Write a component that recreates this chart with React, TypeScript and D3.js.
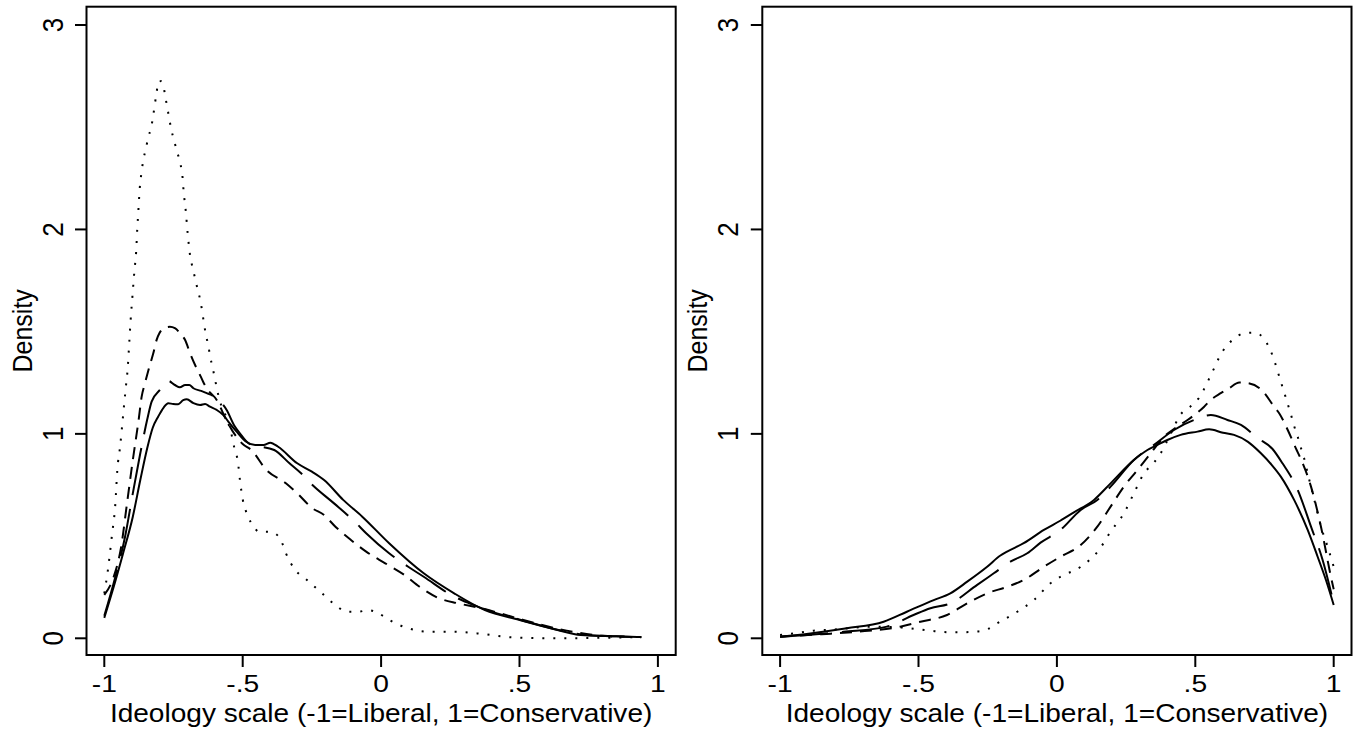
import React from "react";
import * as d3 from "d3";

// ---------- data ----------
const xTickValues = [-1, -0.5, 0, 0.5, 1];
const xTickLabels = ["-1", "-.5", "0", ".5", "1"];
const yTickValues = [0, 1, 2, 3];
const yTickLabels = ["0", "1", "2", "3"];
const xTitle = "Ideology scale (-1=Liberal, 1=Conservative)";
const yTitle = "Density";

// Left panel
const leftSolid: [number, number][] = [
  [-1.0, 0.1], [-0.966, 0.252], [-0.932, 0.416], [-0.897, 0.595], [-0.87, 0.774], [-0.845, 0.93],
  [-0.825, 1.03], [-0.805, 1.085], [-0.785, 1.13], [-0.769, 1.15], [-0.751, 1.146], [-0.733, 1.145],
  [-0.715, 1.165], [-0.702, 1.169], [-0.678, 1.15], [-0.654, 1.141], [-0.636, 1.146], [-0.618, 1.133],
  [-0.594, 1.117], [-0.57, 1.092], [-0.552, 1.06], [-0.522, 1.011], [-0.486, 0.96], [-0.455, 0.945],
  [-0.425, 0.945], [-0.4, 0.957], [-0.372, 0.937], [-0.303, 0.856], [-0.25, 0.815], [-0.206, 0.774],
  [-0.137, 0.677], [-0.068, 0.595], [0.029, 0.465], [0.154, 0.318], [0.264, 0.22], [0.375, 0.138],
  [0.499, 0.09], [0.637, 0.041], [0.721, 0.016], [0.85, 0.01], [0.94, 0.006],
];
const leftLongDash: [number, number][] = [
  [-1.0, 0.11], [-0.96, 0.301], [-0.925, 0.497], [-0.897, 0.709], [-0.87, 0.905], [-0.845, 1.07],
  [-0.829, 1.158], [-0.799, 1.215], [-0.769, 1.259], [-0.745, 1.239], [-0.727, 1.228], [-0.708, 1.239],
  [-0.693, 1.239], [-0.678, 1.223], [-0.65, 1.21], [-0.63, 1.199], [-0.594, 1.174], [-0.558, 1.117],
  [-0.53, 1.04], [-0.51, 1.003], [-0.48, 0.955], [-0.455, 0.94], [-0.434, 0.937], [-0.386, 0.921],
  [-0.331, 0.856], [-0.289, 0.807], [-0.248, 0.75], [-0.17, 0.66], [-0.095, 0.57], [-0.054, 0.514],
  [0.029, 0.416], [0.098, 0.35], [0.154, 0.301], [0.264, 0.204], [0.319, 0.171], [0.4, 0.13],
  [0.499, 0.092], [0.637, 0.042], [0.75, 0.015], [0.85, 0.01], [0.94, 0.006],
];
const leftDash: [number, number][] = [
  [-1.0, 0.212], [-0.966, 0.301], [-0.939, 0.448], [-0.918, 0.66], [-0.897, 0.872], [-0.876, 1.068],
  [-0.865, 1.182], [-0.853, 1.248], [-0.837, 1.329], [-0.823, 1.394], [-0.811, 1.46], [-0.801, 1.492],
  [-0.78, 1.52], [-0.763, 1.524], [-0.745, 1.517], [-0.725, 1.49], [-0.708, 1.459], [-0.69, 1.394],
  [-0.672, 1.337], [-0.657, 1.296], [-0.643, 1.255], [-0.63, 1.223], [-0.594, 1.166], [-0.56, 1.07],
  [-0.53, 1.0], [-0.5, 0.95], [-0.469, 0.921], [-0.414, 0.823], [-0.344, 0.758], [-0.303, 0.709],
  [-0.248, 0.636], [-0.206, 0.603], [-0.165, 0.546], [-0.109, 0.481], [-0.054, 0.424], [0.015, 0.367],
  [0.084, 0.31], [0.139, 0.252], [0.209, 0.196], [0.278, 0.171], [0.361, 0.147], [0.43, 0.122],
  [0.5, 0.095], [0.582, 0.065], [0.7, 0.03], [0.8, 0.012], [0.94, 0.005],
];
const leftDot: [number, number][] = [
  [-1.0, 0.22], [-0.987, 0.334], [-0.973, 0.497], [-0.96, 0.66], [-0.953, 0.823], [-0.943, 0.937],
  [-0.931, 1.106], [-0.923, 1.218], [-0.915, 1.329], [-0.91, 1.443], [-0.905, 1.554], [-0.898, 1.68],
  [-0.891, 1.8], [-0.885, 1.89], [-0.881, 2.0], [-0.877, 2.09], [-0.872, 2.2], [-0.865, 2.285],
  [-0.859, 2.34], [-0.85, 2.394], [-0.841, 2.451], [-0.83, 2.503], [-0.823, 2.56], [-0.817, 2.616],
  [-0.811, 2.671], [-0.803, 2.727], [-0.795, 2.725], [-0.787, 2.707], [-0.78, 2.652], [-0.772, 2.594],
  [-0.765, 2.539], [-0.757, 2.483], [-0.747, 2.43], [-0.736, 2.376], [-0.725, 2.32], [-0.718, 2.265],
  [-0.713, 2.18], [-0.706, 2.095], [-0.699, 1.984], [-0.69, 1.872], [-0.682, 1.818], [-0.672, 1.761],
  [-0.663, 1.707], [-0.653, 1.652], [-0.646, 1.596], [-0.64, 1.541], [-0.633, 1.485], [-0.624, 1.43],
  [-0.617, 1.375], [-0.608, 1.32], [-0.6, 1.267], [-0.592, 1.213], [-0.582, 1.158], [-0.566, 1.106],
  [-0.552, 1.052], [-0.54, 0.995], [-0.53, 0.93], [-0.517, 0.86], [-0.51, 0.774], [-0.5, 0.68],
  [-0.483, 0.603], [-0.462, 0.55], [-0.441, 0.521], [-0.4, 0.521], [-0.365, 0.489], [-0.344, 0.416],
  [-0.31, 0.334], [-0.275, 0.294], [-0.22, 0.228], [-0.165, 0.163], [-0.123, 0.13], [-0.082, 0.13],
  [-0.047, 0.138], [-0.013, 0.125], [0.029, 0.09], [0.098, 0.049], [0.181, 0.032], [0.264, 0.032],
  [0.347, 0.024], [0.471, 0.005], [0.637, 0.0], [0.86, 0.004], [0.94, 0.006],
];

// Right panel
const rightSolid: [number, number][] = [
  [-1.0, 0.008], [-0.891, 0.024], [-0.759, 0.049], [-0.626, 0.081], [-0.542, 0.13], [-0.445, 0.187],
  [-0.385, 0.22], [-0.324, 0.277], [-0.252, 0.35], [-0.204, 0.405], [-0.18, 0.424], [-0.12, 0.465],
  [-0.047, 0.53], [0.012, 0.575], [0.06, 0.615], [0.134, 0.677], [0.194, 0.758], [0.278, 0.872],
  [0.327, 0.921], [0.363, 0.946], [0.399, 0.97], [0.447, 0.995], [0.508, 1.011], [0.55, 1.022],
  [0.6, 1.005], [0.64, 0.995], [0.689, 0.962], [0.737, 0.905], [0.775, 0.85], [0.809, 0.791],
  [0.857, 0.677], [0.906, 0.53], [0.942, 0.399], [0.972, 0.285], [1.0, 0.163],
];
const rightLongDash: [number, number][] = [
  [-1.0, 0.008], [-0.88, 0.018], [-0.771, 0.032], [-0.614, 0.057], [-0.518, 0.114], [-0.457, 0.147],
  [-0.385, 0.171], [-0.288, 0.261], [-0.228, 0.318], [-0.168, 0.375], [-0.107, 0.416], [-0.059, 0.468],
  [0.013, 0.53], [0.086, 0.628], [0.146, 0.677], [0.194, 0.742], [0.278, 0.872], [0.351, 0.946],
  [0.423, 1.019], [0.496, 1.068], [0.556, 1.092], [0.616, 1.068], [0.665, 1.044], [0.725, 0.98],
  [0.779, 0.926], [0.815, 0.856], [0.87, 0.726], [0.918, 0.546], [0.96, 0.383], [1.0, 0.17],
];
const rightDash: [number, number][] = [
  [-1.0, 0.008], [-0.85, 0.02], [-0.722, 0.032], [-0.566, 0.057], [-0.493, 0.081], [-0.397, 0.114],
  [-0.324, 0.171], [-0.252, 0.22], [-0.18, 0.252], [-0.12, 0.285], [-0.047, 0.35], [0.013, 0.399],
  [0.086, 0.456], [0.146, 0.546], [0.194, 0.644], [0.242, 0.742], [0.291, 0.823], [0.339, 0.905],
  [0.387, 0.986], [0.43, 1.03], [0.472, 1.068], [0.532, 1.133], [0.556, 1.166], [0.592, 1.199],
  [0.622, 1.223], [0.659, 1.251], [0.689, 1.248], [0.737, 1.218], [0.785, 1.133], [0.803, 1.101],
  [0.834, 1.019], [0.863, 0.93], [0.882, 0.875], [0.918, 0.742], [0.954, 0.546], [0.99, 0.301],
  [1.0, 0.24],
];
const rightDot: [number, number][] = [
  [-1.0, 0.016], [-0.952, 0.024], [-0.879, 0.037], [-0.795, 0.044], [-0.674, 0.057], [-0.554, 0.052],
  [-0.457, 0.037], [-0.373, 0.029], [-0.3, 0.032], [-0.252, 0.044], [-0.216, 0.073], [-0.143, 0.13],
  [-0.083, 0.187], [-0.023, 0.269], [0.013, 0.301], [0.086, 0.35], [0.152, 0.432], [0.194, 0.522],
  [0.242, 0.611], [0.278, 0.709], [0.315, 0.807], [0.351, 0.86], [0.375, 0.905], [0.411, 1.0],
  [0.447, 1.095], [0.481, 1.132], [0.511, 1.172], [0.532, 1.22], [0.55, 1.27], [0.568, 1.321],
  [0.586, 1.373], [0.608, 1.422], [0.638, 1.463], [0.677, 1.492], [0.715, 1.495], [0.749, 1.463],
  [0.771, 1.41], [0.785, 1.36], [0.797, 1.308], [0.809, 1.255], [0.822, 1.199], [0.834, 1.146],
  [0.846, 1.092], [0.857, 1.039], [0.87, 0.986], [0.882, 0.93], [0.894, 0.876], [0.906, 0.807],
  [0.93, 0.677], [0.954, 0.546], [0.978, 0.448], [1.0, 0.35],
];

const leftSeries = [leftSolid, leftLongDash, leftDash, leftDot];
const rightSeries = [rightSolid, rightLongDash, rightDash, rightDot];

// ---------- styles ----------
const lineStyles = [
  { dash: "none", width: 2 },
  { dash: "48,14", width: 2 },
  { dash: "12,8", width: 2 },
  { dash: "2,9", width: 2 },
];

const W = 1362;
const H = 732;
const FONT = "'Liberation Sans', Arial, Helvetica, sans-serif";

const xTickFont = { size: 23.5, sx: 1.2 };
const yTickFont = { size: 26, sx: 1.12 };
const titleFont = { size: 25.5, sx: 1.1 };
const yTitleFont = { size: 25, sx: 1.1 };

const frame = { x1: 86.5, x2: 675.7, y1: 6.7, y2: 655 };
const panelOffset = 675.8;

const xScale = d3.scaleLinear().domain([-1, 1]).range([104.3, 657.9]);
const yScale = d3.scaleLinear().domain([0, 3]).range([638.3, 25]);

const lineGen = d3
  .line<[number, number]>()
  .x((d) => xScale(d[0]))
  .y((d) => yScale(d[1]))
  .curve(d3.curveMonotoneX);

function Panel({ series, dx }: { series: [number, number][][]; dx: number }) {
  const fcx = (frame.x1 + frame.x2) / 2;
  const fcy = (frame.y1 + frame.y2) / 2;
  return (
    <g transform={`translate(${dx},0)`}>
      <rect
        x={frame.x1}
        y={frame.y1}
        width={frame.x2 - frame.x1}
        height={frame.y2 - frame.y1}
        fill="none"
        stroke="#000"
        strokeWidth={2}
      />
      {series.map((s, i) => (
        <path
          key={i}
          d={lineGen(s) || ""}
          fill="none"
          stroke="#000"
          strokeWidth={lineStyles[i].width}
          strokeDasharray={lineStyles[i].dash === "none" ? undefined : lineStyles[i].dash}
          strokeLinecap="butt"
          strokeLinejoin="round"
        />
      ))}
      {xTickValues.map((v, i) => (
        <g key={"xt" + i}>
          <line x1={xScale(v)} x2={xScale(v)} y1={frame.y2} y2={frame.y2 + 12} stroke="#000" strokeWidth={2} />
          <text
            transform={`translate(${xScale(v)},691.7) scale(${xTickFont.sx},1)`}
            textAnchor="middle"
            fontFamily={FONT}
            fontSize={xTickFont.size}
            fill="#000"
          >
            {xTickLabels[i]}
          </text>
        </g>
      ))}
      {yTickValues.map((v, i) => (
        <g key={"yt" + i}>
          <line x1={frame.x1 - 11.5} x2={frame.x1} y1={yScale(v)} y2={yScale(v)} stroke="#000" strokeWidth={2} />
          <text
            transform={`translate(62.6,${yScale(v)}) scale(${yTickFont.sx},1) rotate(-90)`}
            textAnchor="middle"
            fontFamily={FONT}
            fontSize={yTickFont.size}
            fill="#000"
          >
            {yTickLabels[i]}
          </text>
        </g>
      ))}
      <text
        transform={`translate(${fcx},721.7) scale(${titleFont.sx},1)`}
        textAnchor="middle"
        fontFamily={FONT}
        fontSize={titleFont.size}
        fill="#000"
      >
        {xTitle}
      </text>
      <text
        transform={`translate(31.5,${fcy}) scale(${yTitleFont.sx},1) rotate(-90)`}
        textAnchor="middle"
        fontFamily={FONT}
        fontSize={yTitleFont.size}
        fill="#000"
      >
        {yTitle}
      </text>
    </g>
  );
}

export default function App() {
  return (
    <svg
      width={W}
      height={H}
      viewBox={`0 0 ${W} ${H}`}
      style={{ position: "absolute", left: 0, top: 0, display: "block", background: "#fff" }}
    >
      <rect x={0} y={0} width={W} height={H} fill="#fff" />
      <Panel series={leftSeries} dx={0} />
      <Panel series={rightSeries} dx={panelOffset} />
    </svg>
  );
}
